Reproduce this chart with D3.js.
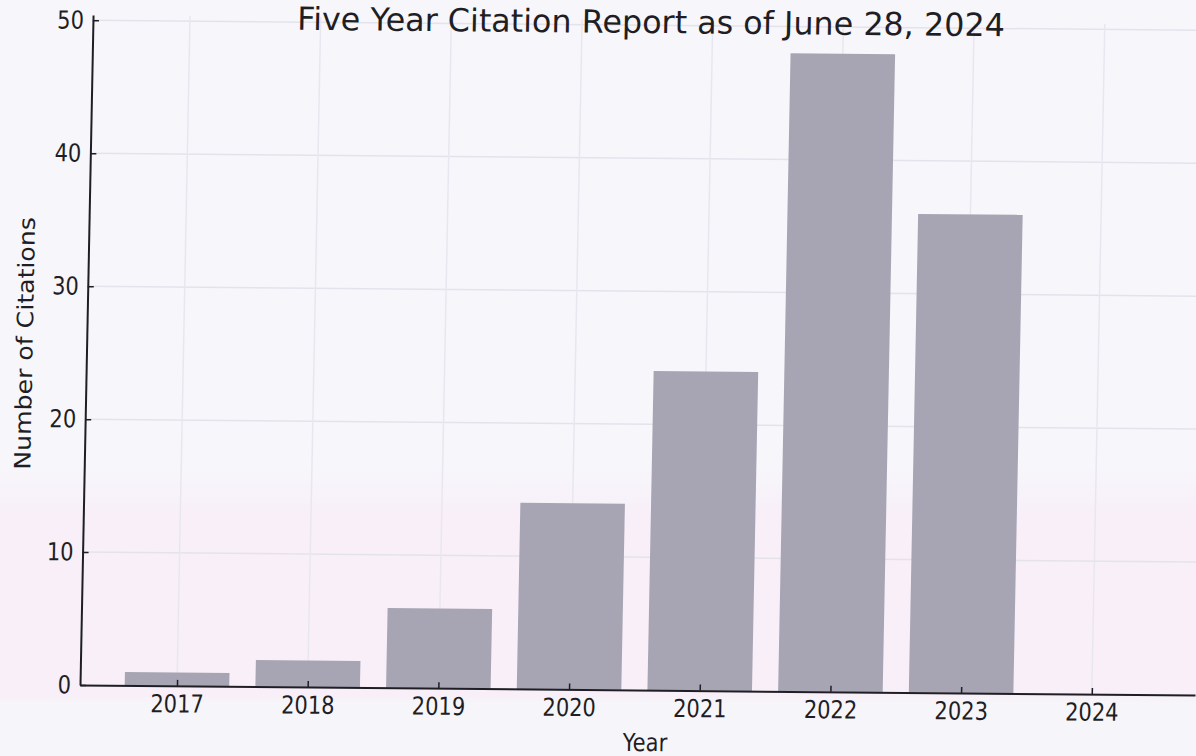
<!DOCTYPE html>
<html>
<head>
<meta charset="utf-8">
<script src="https://cdn.jsdelivr.net/npm/d3@7"></script>
<style>
  html, body { margin: 0; padding: 0; background: #f7f6fb; }
  svg { display: block; }
  text { font-family: "DejaVu Sans", sans-serif; fill: #1e1e24; }
</style>
</head>
<body>
<svg id="chart" width="1196" height="756"></svg>
<script>
// ---- data ----
const years = ["2017", "2018", "2019", "2020", "2021", "2022", "2023", "2024"];
const citations = [1, 2, 6, 14, 24, 48, 36, 0];
const yTicks = [0, 10, 20, 30, 40, 50];
const titleText = "Five Year Citation Report as of June 28, 2024";
const xLabel = "Year";
const yLabel = "Number of Citations";

// ---- layout ----
const W = 1196, H = 756;
const L = 80, R = 1195, B = 685, T = 15;
const k1 = 0.009, k2 = 0.0195; // scan skew
const vs = 1.18;                // vertical stretch of scanned glyphs

const svg = d3.select("#chart");

// faint scan tint
const defs = svg.append("defs");
const grad = defs.append("linearGradient").attr("id", "tint").attr("x1", 0).attr("y1", 0).attr("x2", 0).attr("y2", 1);
grad.append("stop").attr("offset", "0%").attr("stop-color", "#f7f6fb");
grad.append("stop").attr("offset", "62%").attr("stop-color", "#f7f6fb");
grad.append("stop").attr("offset", "68%").attr("stop-color", "#f8eff8");
grad.append("stop").attr("offset", "92%").attr("stop-color", "#f8eff8");
grad.append("stop").attr("offset", "93%").attr("stop-color", "#f6f5fa");
svg.append("rect").attr("width", W).attr("height", H).attr("fill", "url(#tint)");

const g = svg.append("g")
  .attr("transform", `matrix(1,${k1},${-k2},1,${k2 * B},${-k1 * L})`);

const x = d3.scaleLinear().domain([-0.742, 7.79]).range([L, R]);
const y = d3.scaleLinear().domain([0, 50.4]).range([B, T]);
const barW = x(0.8) - x(0);

// grid
g.append("g").selectAll("line.h").data(yTicks.filter(d => d > 0)).join("line")
  .attr("x1", L).attr("x2", R).attr("y1", d => y(d)).attr("y2", d => y(d))
  .attr("stroke", "#e4e3ec").attr("stroke-width", 1.5);
g.append("g").selectAll("line.v").data(years.map((d, i) => i)).join("line")
  .attr("x1", d => x(d)).attr("x2", d => x(d)).attr("y1", y(50.4)).attr("y2", B)
  .attr("stroke", "#e8e7f0").attr("stroke-width", 1.5);

// bars
g.append("g").selectAll("rect").data(citations).join("rect")
  .attr("x", (d, i) => x(i) - barW / 2)
  .attr("width", barW)
  .attr("y", d => y(d))
  .attr("height", d => B - y(d))
  .attr("fill", "#a7a5b3");

// axes
const xAxis = d3.axisBottom(x)
  .tickValues(years.map((d, i) => i))
  .tickFormat(i => years[i])
  .tickSize(-6).tickSizeOuter(0).tickPadding(9);
const yAxis = d3.axisLeft(y)
  .tickValues(yTicks)
  .tickSize(-6).tickSizeOuter(0).tickPadding(9);

const gx = g.append("g").attr("transform", `translate(0,${B})`).call(xAxis);
const gy = g.append("g").attr("transform", `translate(${L},0)`).call(yAxis);
[gx, gy].forEach(a => {
  a.select(".domain").attr("stroke", "#1e1e24").attr("stroke-width", 2);
  a.selectAll(".tick line").attr("stroke", "#1e1e24").attr("stroke-width", 1.5);
  a.selectAll(".tick text").attr("font-size", 21).attr("font-family", "DejaVu Sans").attr("fill", "#2a2a30")
    .each(function () {
      const t = d3.select(this);
      const ty = +t.attr("y") || 0;
      t.attr("y", 0).attr("transform", `translate(0,${ty}) scale(1,${vs})`);
    });
});

// labels
g.append("text").attr("transform", `translate(646,746) scale(1,${vs})`).attr("text-anchor", "middle")
  .attr("font-size", 21).text(xLabel);
g.append("text").attr("transform", "translate(26,344) rotate(-90) scale(1.12,1)").attr("text-anchor", "middle")
  .attr("font-size", 22.5).text(yLabel);

const title = g.append("text").attr("text-anchor", "middle")
  .attr("transform", `translate(638,28)`)
  .attr("font-size", 20).text(titleText);
const tw = title.node().getComputedTextLength();
title.attr("font-size", 20 * 708 / tw);
</script>
</body>
</html>
